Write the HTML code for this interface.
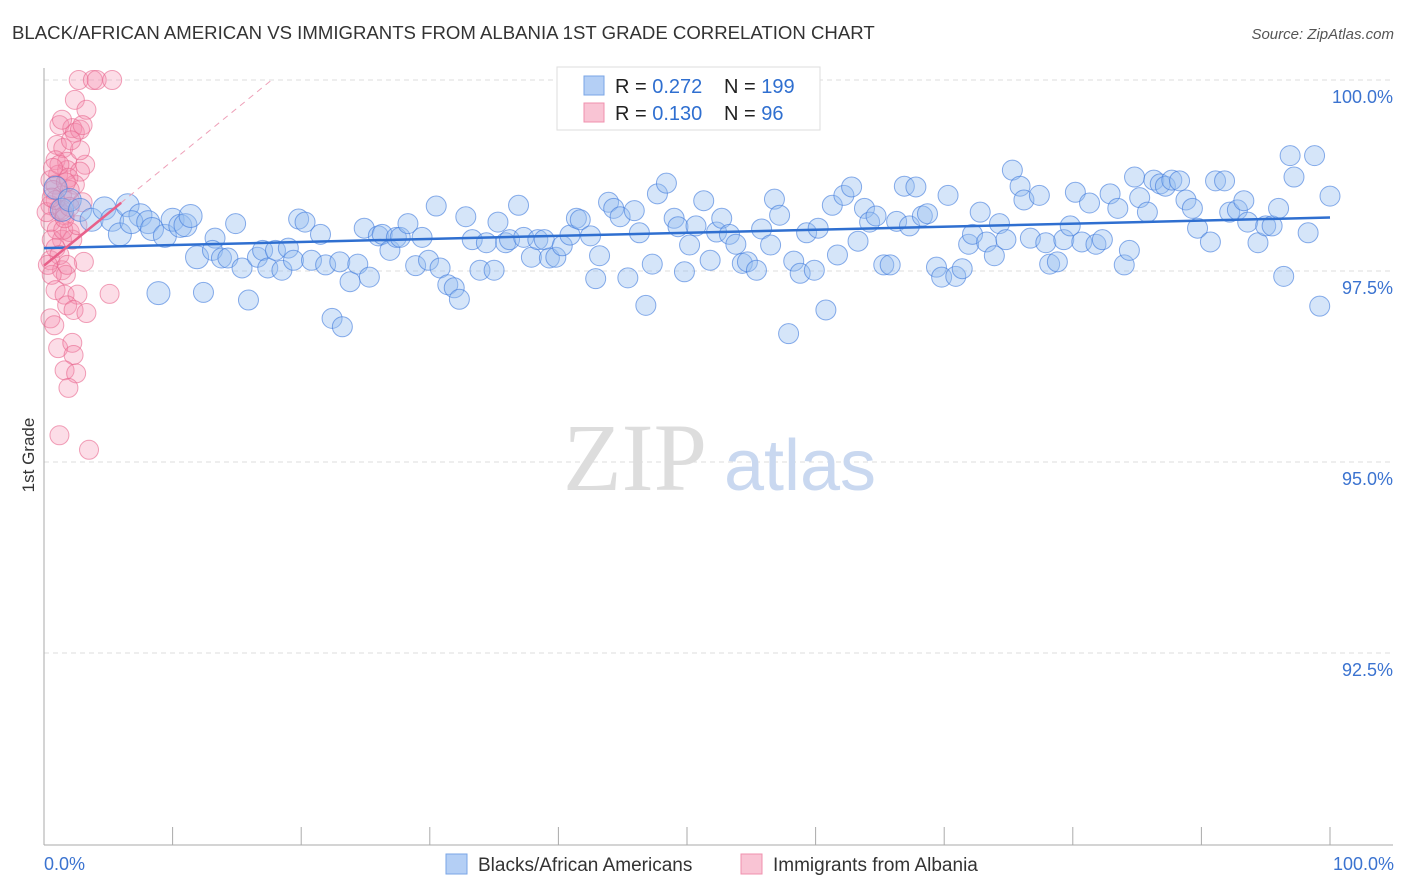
<!DOCTYPE html>
<html><head><meta charset="utf-8"><style>
body{margin:0;background:#fff;font-family:"Liberation Sans",sans-serif;}
#wrap{position:relative;width:1406px;height:892px;overflow:hidden;}
</style></head><body>
<div id="wrap">
<svg id="svg" width="1406" height="892" xmlns="http://www.w3.org/2000/svg">
<text x="12" y="39" font-size="18.6" fill="#333">BLACK/AFRICAN AMERICAN VS IMMIGRANTS FROM ALBANIA 1ST GRADE CORRELATION CHART</text>
<text x="1394" y="39" font-size="15" fill="#555" font-style="italic" text-anchor="end">Source: ZipAtlas.com</text>
<text x="0" y="0" transform="translate(34,455) rotate(-90)" font-size="17" fill="#333" text-anchor="middle">1st Grade</text>
<g id="grid"></g>
<g><text x="635" y="490" font-size="96" fill="#ddd" font-family="Liberation Serif,serif" text-anchor="middle">ZIP</text><text x="800" y="490" font-size="72" fill="#c9d8f0" text-anchor="middle">atlas</text></g>
<g id="pinkPts"></g><g id="bluePts"></g><g id="lines"></g>
<g>
<rect x="557" y="67" width="263" height="63" fill="#fff" stroke="#ddd"/>
<rect x="584" y="76" width="20" height="19" fill="#b4cff5" stroke="#7aa5e6"/>
<rect x="584" y="103" width="20" height="19" fill="#f9c4d4" stroke="#f090ae"/>
<text x="615" y="93" font-size="20" fill="#222">R = <tspan fill="#2f6fd0">0.272</tspan></text>
<text x="724" y="93" font-size="20" fill="#222">N = <tspan fill="#2f6fd0">199</tspan></text>
<text x="615" y="120" font-size="20" fill="#222">R = <tspan fill="#2f6fd0">0.130</tspan></text>
<text x="724" y="120" font-size="20" fill="#222">N = <tspan fill="#2f6fd0"> 96</tspan></text>
</g>
<g>
<rect x="446" y="854" width="21" height="20" fill="#b4cff5" stroke="#7aa5e6"/>
<text x="478" y="871" font-size="19" fill="#333">Blacks/African Americans</text>
<rect x="741" y="854" width="21" height="20" fill="#f9c4d4" stroke="#f090ae"/>
<text x="773" y="871" font-size="19" fill="#333">Immigrants from Albania</text>
</g>
<text x="44" y="870" font-size="18" fill="#3b73d0">0.0%</text>
<text x="1394" y="870" font-size="18" fill="#3b73d0" text-anchor="end">100.0%</text>
</svg>
</div>
<script>
const yTicks=[100,97.5,95,92.5];
const yTickLabels=["100.0%","97.5%","95.0%","92.5%"];
const xTicks=[0,10,20,30,40,50,60,70,80,90,100];
const blueX=[0.9,1.4,2.0,2.8,3.7,4.7,5.3,5.9,6.5,7.5,6.8,8.1,8.4,9.4,10.0,10.6,11.0,11.4,8.9,11.9,12.4,13.3,13.1,13.8,14.3,14.9,15.4,15.9,16.6,17.0,17.4,18.0,18.5,19.0,19.4,19.8,20.3,20.8,21.5,21.9,22.4,23.2,23.0,23.8,24.4,24.9,25.3,26.0,26.3,26.9,27.4,27.7,28.3,28.9,29.4,29.9,30.5,30.8,31.4,31.9,32.3,32.8,33.3,33.9,34.4,35.0,35.3,35.9,36.2,36.9,37.3,37.9,38.4,38.9,39.3,39.8,40.3,40.9,41.4,41.7,42.5,42.9,43.2,43.9,44.3,44.8,45.4,45.9,46.3,46.8,47.3,47.7,48.4,49.0,49.3,49.8,50.2,50.7,51.3,51.8,52.3,52.7,53.3,53.8,54.3,54.7,55.4,55.8,56.5,56.8,57.2,57.9,58.3,58.8,59.3,59.9,60.2,60.8,61.3,61.7,62.2,62.8,63.3,63.8,64.2,64.7,65.3,65.8,66.3,66.9,67.3,67.8,68.3,68.7,69.4,69.8,70.3,70.9,71.4,71.9,72.2,72.8,73.3,73.9,74.3,74.8,75.3,75.9,76.2,76.7,77.4,77.9,78.2,78.8,79.3,79.8,80.2,80.7,81.3,81.8,82.3,82.9,83.5,84.0,84.4,84.8,85.2,85.8,86.3,86.8,87.2,87.7,88.3,88.8,89.3,89.7,90.7,91.1,91.8,92.2,92.8,93.3,93.6,94.4,95.0,95.5,96.0,96.4,96.9,97.2,98.3,98.8,99.2,100];
const blueY=[98.59,98.30,98.43,98.30,98.17,98.32,98.17,97.98,98.36,98.23,98.14,98.14,98.05,97.96,98.17,98.09,98.10,98.22,97.21,97.68,97.22,97.93,97.77,97.67,97.67,98.12,97.54,97.12,97.68,97.77,97.54,97.77,97.51,97.80,97.64,98.18,98.14,97.64,97.98,97.58,96.88,96.77,97.62,97.36,97.59,98.06,97.42,97.96,97.98,97.77,97.94,97.94,98.12,97.57,97.94,97.64,98.35,97.54,97.32,97.28,97.13,98.21,97.91,97.51,97.87,97.51,98.14,97.87,97.91,98.36,97.94,97.68,97.91,97.91,97.67,97.68,97.83,97.97,98.19,98.17,97.96,97.40,97.70,98.40,98.32,98.21,97.41,98.29,98.00,97.05,97.59,98.51,98.65,98.19,98.08,97.49,97.84,98.09,98.42,97.64,98.01,98.19,97.98,97.85,97.60,97.62,97.51,98.05,97.84,98.44,98.23,96.68,97.63,97.47,98.00,97.51,98.06,96.99,98.36,97.71,98.49,98.60,97.89,98.32,98.14,98.22,97.58,97.58,98.15,98.61,98.09,98.60,98.22,98.25,97.55,97.42,98.49,97.43,97.53,97.85,97.98,98.27,97.88,97.70,98.12,97.91,98.82,98.61,98.43,97.93,98.49,97.87,97.59,97.62,97.91,98.09,98.53,97.88,98.39,97.85,97.91,98.51,98.32,97.58,97.77,98.73,98.46,98.27,98.69,98.64,98.61,98.69,98.68,98.43,98.32,98.06,97.88,98.68,98.68,98.27,98.30,98.42,98.14,97.87,98.09,98.09,98.32,97.43,99.01,98.73,98.00,99.01,97.04,98.48];
const pinkX=[2.7,3.8,4.1,5.3,2.4,3.3,1.2,2.2,2.4,2.8,1.0,1.5,0.9,1.8,3.2,1.1,1.8,2.8,0.5,0.9,2.4,1.4,2.0,3.0,0.5,1.1,1.6,0.5,1.0,1.4,0.6,2.0,0.5,3.1,1.4,1.7,0.6,0.9,1.6,2.6,5.1,0.5,0.8,1.8,2.3,3.3,1.1,2.2,2.3,1.6,2.5,1.9,1.2,3.5,1.2,0.7,1.9,0.2,2.2,1.5,0.9,1.2,1.8,0.3,1.4,2.0,2.8,3.0,2.1,1.4,2.6,0.9,1.7,0.7,1.6,2.0,0.6];
const pinkY=[100,100,100,100,99.74,99.61,99.41,99.37,99.31,99.35,99.15,99.11,98.95,98.93,98.89,98.76,98.82,98.80,98.69,98.63,98.63,98.49,98.43,98.40,98.36,98.30,98.23,98.14,98.04,97.91,97.91,98.01,97.64,97.62,97.51,97.45,97.45,97.25,97.19,97.19,97.20,96.88,96.79,97.05,96.99,96.95,96.49,96.56,96.40,96.20,96.16,95.97,95.35,95.16,98.89,98.56,98.72,98.27,97.91,98.04,97.80,97.71,97.58,97.58,98.30,98.56,99.08,99.41,99.21,99.48,98.10,98.43,98.66,98.85,98.19,98.34,98.46];
const blueLine=[97.8,98.2];
const pinkLine=[97.57,100];
const NS='http://www.w3.org/2000/svg';
const X0=44,X1=1330,Y100=80,PX_PER=76.4;
function sx(v){return X0+(X1-X0)*v/100;}
function sy(v){return Y100+(100-v)*PX_PER;}
function mk(t,a,p){const e=document.createElementNS(NS,t);for(const k in a)e.setAttribute(k,a[k]);p.appendChild(e);return e;}
const svg=document.getElementById('svg');
const grid=document.getElementById('grid');
yTicks.forEach((t,i)=>{
 const l=mk('line',{x1:44,x2:1393,y1:sy(t),y2:sy(t),stroke:'#ddd','stroke-dasharray':'5,4'},grid);
 
 
 const tx=mk('text',{x:1393,y:sy(t)+23,'font-size':18,fill:'#3b73d0','text-anchor':'end'},grid);
 tx.textContent=yTickLabels[i];
 
 
});
const ax=mk('line',{x1:44,x2:44,y1:68,y2:845,stroke:'#aaa'},grid);


const bx=mk('line',{x1:44,x2:1393,y1:845,y2:845,stroke:'#aaa'},grid);


xTicks.forEach(t=>{
 const l=mk('line',{x1:sx(t),x2:sx(t),y1:827,y2:845,stroke:'#aaa'},grid);
 
 
});
const bg=document.getElementById('bluePts'),pg=document.getElementById('pinkPts');
pinkX.forEach((x,i)=>{
 const c=mk('circle',{cx:sx(x),cy:sy(pinkY[i]),r:9.5,fill:'rgba(244,143,177,0.3)',stroke:'rgba(232,100,140,0.6)','stroke-width':1},pg);
 
 
});
blueX.forEach((x,i)=>{
 const c=mk('circle',{cx:sx(x),cy:sy(blueY[i]),r:x<12?11.5:10,fill:'rgba(150,190,240,0.4)',stroke:'rgba(60,120,220,0.6)','stroke-width':1},bg);
 
 
});
const lg=document.getElementById('lines');
const bl=mk('line',{x1:sx(0),y1:sy(blueLine[0]),x2:sx(100),y2:sy(blueLine[1]),stroke:'#2f6fd0','stroke-width':2.5},lg);


const pxEnd=17.7;
const pd=mk('line',{x1:sx(0),y1:sy(pinkLine[0]),x2:sx(pxEnd),y2:sy(pinkLine[1]),stroke:'#eea0b8','stroke-width':1,'stroke-dasharray':'6,5'},lg);


const f=6/pxEnd;
const ps=mk('line',{x1:sx(0),y1:sy(pinkLine[0]),x2:sx(6),y2:sy(pinkLine[0]+(pinkLine[1]-pinkLine[0])*f),stroke:'#e8608a','stroke-width':2.5},lg);


</script>
</body></html>
